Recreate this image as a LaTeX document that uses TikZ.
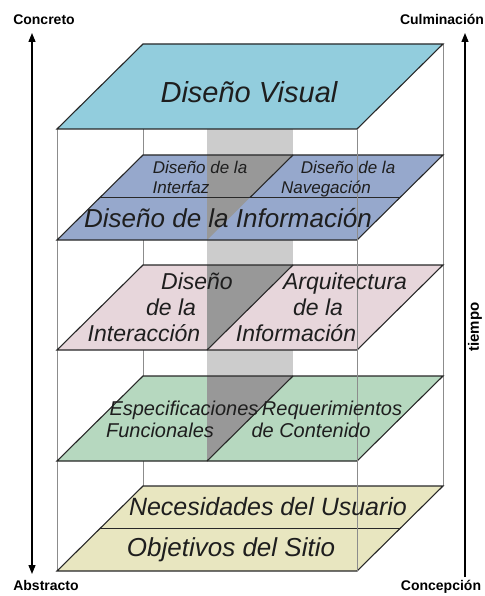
\documentclass[tikz,border=0pt]{standalone}
\usepackage{fontspec}
\setmainfont{Liberation Sans}
\usetikzlibrary{arrows.meta}

\definecolor{visualcol}{RGB}{146,205,221}
\definecolor{infocol}{RGB}{150,168,204}
\definecolor{interactcol}{RGB}{231,214,219}
\definecolor{specscol}{RGB}{182,216,191}
\definecolor{goalscol}{RGB}{232,230,192}
\definecolor{columnlight}{RGB}{204,204,204}
\definecolor{columndark}{RGB}{152,152,152}
\definecolor{edgecol}{RGB}{40,40,40}
\definecolor{framecol}{RGB}{140,140,140}
\definecolor{inkcol}{RGB}{30,30,30}

\newcommand\ptsize[1]{\fontsize{#1}{#1}\selectfont}

% one layer: parallelogram whose back edge sits at height #1,
% #2 = fill colour, #3 = colour of the column triangle on it
\newcommand\slab[3]{%
  \fill[#2] (143,#1) -- ++(300,0) -- ++(-86,85) -- ++(-300,0) -- cycle;
  \fill[#3] (207,#1) -- ++(86,0) -- ++(-86,85) -- cycle;
  \draw[layer] (143,#1) -- ++(300,0) -- ++(-86,85) -- ++(-300,0) -- cycle;}

\tikzset{
  layer/.style={draw=edgecol, line width=1.1pt, line join=miter},
  frameline/.style={draw=framecol, line width=0.9pt},
  planetext/.style={anchor=base, inner sep=0pt, text=inkcol, font=\itshape},
  axislabel/.style={anchor=base, inner sep=0pt, font=\bfseries\ptsize{14}},
  axisline/.style={draw=black, line width=1.3pt},
  tip/.tip={Triangle[length=9pt,width=7pt]},
}

\begin{document}
\begin{tikzpicture}[x=1pt,y=-1pt]
\fill[white] (0,0) rectangle (484,596);
\useasboundingbox (0,0) rectangle (484,596);

% light grey column running through the middle layers
\fill[columnlight] (207,129) rectangle (293,376);

% back and left edges of the frame
\draw[frameline] (143,44) -- (143,486);
\draw[frameline] (443,44) -- (443,486);
\draw[frameline] (57,129) -- (57,571);

% layers, top to bottom
\slab{44}{visualcol}{visualcol}
\slab{155}{infocol}{columndark}
\draw[layer] (100,197.5) -- (400,197.5);
\draw[layer] (293,155) -- (250,197.5);
\slab{265}{interactcol}{columndark}
\draw[layer] (293,265) -- (207,350);
\slab{376}{specscol}{columndark}
\draw[layer] (293,376) -- (207,461);
\slab{486}{goalscol}{goalscol}
\draw[layer] (100,528.5) -- (400,528.5);

% front right edge of the frame, seen through the layers
\draw[frameline] (357,129) -- (357,571);

% layer texts
\node[planetext, font=\itshape\ptsize{29}] (visual) at (249,103) {Diseño Visual};

\node[planetext, font=\itshape\ptsize{17}] (ifaceA) at (200,173) {Diseño de la};
\node[planetext, font=\itshape\ptsize{17}] (ifaceB) at (181,193) {Interfaz};
\node[planetext, font=\itshape\ptsize{17}] (navA) at (348,173) {Diseño de la};
\node[planetext, font=\itshape\ptsize{17}] (navB) at (326,193) {Navegación};
\node[planetext, font=\itshape\ptsize{26}] (infodes) at (228,227) {Diseño de la Información};

\node[planetext, font=\itshape\ptsize{23}] (interA) at (197,289) {Diseño};
\node[planetext, font=\itshape\ptsize{23}] (interB) at (171,315) {de la};
\node[planetext, font=\itshape\ptsize{23}] (interC) at (144,341) {Interacción};
\node[planetext, font=\itshape\ptsize{23}] (archA) at (345,289) {Arquitectura};
\node[planetext, font=\itshape\ptsize{23}] (archB) at (318,315) {de la};
\node[planetext, font=\itshape\ptsize{23}] (archC) at (296,341) {Información};

\node[planetext, font=\itshape\ptsize{20}] (funcA) at (184,415) {Especificaciones};
\node[planetext, font=\itshape\ptsize{20}] (funcB) at (160,437) {Funcionales};
\node[planetext, font=\itshape\ptsize{20}] (contA) at (332,415) {Requerimientos};
\node[planetext, font=\itshape\ptsize{20}] (contB) at (311,437) {de Contenido};

\node[planetext, font=\itshape\ptsize{25}] (needs) at (268,515) {Necesidades del Usuario};
\node[planetext, font=\itshape\ptsize{26}] (goals) at (231,556) {Objetivos del Sitio};

% axes
\coordinate (concTop) at (32,33);
\coordinate (concBot) at (32,574);
\coordinate (timeTop) at (465,33);
\coordinate (timeBot) at (465,577);
\draw[axisline, tip-tip] (concBot) -- (concTop);
\draw[axisline, -tip] (timeBot) -- (timeTop);

\node[axislabel] (concreto) at (44,25) {Concreto};
\node[axislabel] (abstracto) at (46,590) {Abstracto};
\node[axislabel] (culminacion) at (442,25) {Culminación};
\node[axislabel] (concepcion) at (441,590) {Concepción};
\node[inner sep=0pt, font=\bfseries\ptsize{15}, rotate=90] (tiempo) at (475,327) {tiempo};
\end{tikzpicture}
\end{document}
